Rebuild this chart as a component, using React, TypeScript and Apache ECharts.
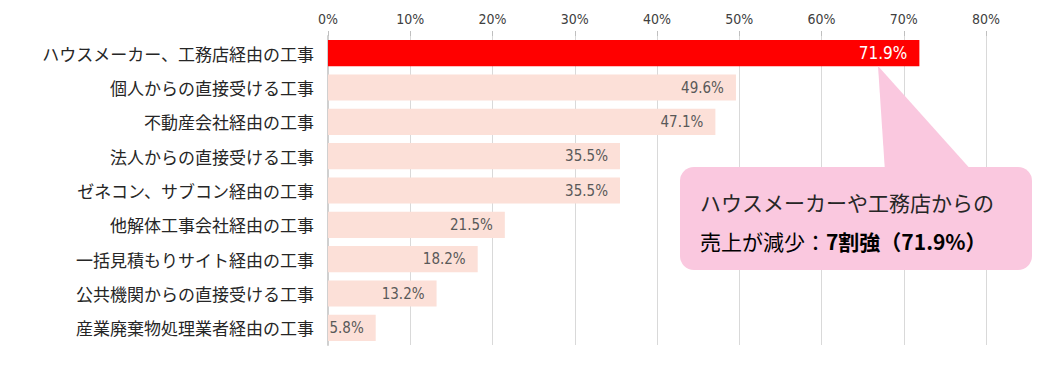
import React, { useEffect, useRef } from "react";
import * as echarts from "echarts";

const categories = [
  "ハウスメーカー、工務店経由の工事",
  "個人からの直接受ける工事",
  "不動産会社経由の工事",
  "法人からの直接受ける工事",
  "ゼネコン、サブコン経由の工事",
  "他解体工事会社経由の工事",
  "一括見積もりサイト経由の工事",
  "公共機関からの直接受ける工事",
  "産業廃棄物処理業者経由の工事",
];
const values = [71.9, 49.6, 47.1, 35.5, 35.5, 21.5, 18.2, 13.2, 5.8];
const highlightIndex = 0;
const calloutLine1 = "ハウスメーカーや工務店からの";
const calloutLine2a = "売上が減少：";
const calloutLine2b = "7割強（71.9%）";

const NARROW = "'DejaVu Sans Condensed', 'Liberation Sans Narrow', 'Noto Sans CJK JP', sans-serif";
const JP = "'Noto Sans CJK JP', sans-serif";

export default function App() {
  const ref = useRef<HTMLDivElement>(null);
  useEffect(() => {
    document.body.style.margin = "0";
    const chart = echarts.init(ref.current!, undefined, { renderer: "svg" });
    chart.setOption({
      animation: false,
      backgroundColor: "#ffffff",
      grid: { left: 328, right: 59, top: 36, bottom: 20, containLabel: false },
      xAxis: {
        type: "value",
        position: "top",
        min: 0,
        max: 80,
        interval: 10,
        axisLine: { show: false },
        axisTick: { show: true, length: 5, lineStyle: { color: "#BFBFBF" } },
        splitLine: { show: true, lineStyle: { color: "#D9D9D9", width: 1 } },
        axisLabel: {
          formatter: "{value}%",
          fontFamily: NARROW,
          fontSize: 14,
          color: "#404040",
          margin: 10,
        },
      },
      yAxis: {
        type: "category",
        inverse: true,
        data: categories,
        axisLine: { show: true, lineStyle: { color: "#D0D0D0", width: 2 } },
        axisTick: { show: false },
        axisLabel: {
          fontFamily: JP,
          fontSize: 17,
          color: "#262626",
          margin: 14,
        },
      },
      series: [
        {
          type: "bar",
          barCategoryGap: "24%",
          data: values.map((v, i) => ({
            value: v,
            itemStyle: { color: i === highlightIndex ? "#FF0000" : "#FCE0D8" },
            label: i === highlightIndex
              ? { color: "#ffffff", fontSize: 17 }
              : { color: "#595959", fontSize: 15 },
          })),
          label: {
            show: true,
            position: "insideRight",
            distance: 12,
            fontFamily: NARROW,
            formatter: (p: any) => p.value.toFixed(1) + "%",
          },
        },
      ],
      graphic: [
        {
          type: "polygon",
          shape: { points: [[878, 66], [885, 172], [973, 172]] },
          style: { fill: "#FAC8DF" },
          z: 100,
        },
        {
          type: "rect",
          shape: { x: 680, y: 167, width: 352, height: 103, r: 14 },
          style: { fill: "#FAC8DF" },
          z: 100,
        },
        {
          type: "text",
          x: 700,
          y: 202,
          style: {
            text: calloutLine1,
            fontFamily: JP,
            fontSize: 21,
            fill: "#262626",
            verticalAlign: "middle",
          },
          z: 101,
        },
        {
          type: "text",
          x: 700,
          y: 241,
          style: {
            text: "{a|" + calloutLine2a + "}{b|" + calloutLine2b + "}",
            verticalAlign: "middle",
            rich: {
              a: { fontFamily: JP, fontSize: 21, color: "#262626" },
              b: { fontFamily: JP, fontSize: 21, fontWeight: "bold", color: "#111111" },
            },
          },
          z: 101,
        },
      ],
    });
    return () => chart.dispose();
  }, []);
  return (
    <div
      ref={ref}
      style={{ position: "fixed", left: 0, top: 0, width: 1045, height: 365 }}
    />
  );
}
